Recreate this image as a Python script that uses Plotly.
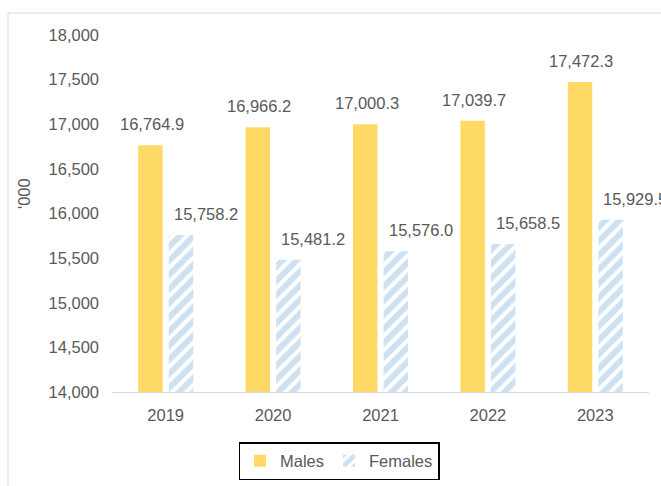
import plotly.graph_objects as go

years = ["2019", "2020", "2021", "2022", "2023"]
males = [16764.9, 16966.2, 17000.3, 17039.7, 17472.3]
females = [15758.2, 15481.2, 15576.0, 15658.5, 15929.5]
y_ticks = [14000, 14500, 15000, 15500, 16000, 16500, 17000, 17500, 18000]

FONT = "Liberation Sans, Arial, sans-serif"
FS = 16.5
GREY = "#595959"
YELLOW = "#FFD966"
BLUE = "#9DC3E6"

W, H = 661, 486
ML, MR, MT, MB = 112, 12, 35, 94
PW = W - ML - MR
PH = H - MT - MB

fig = go.Figure()
fig.add_trace(go.Bar(
    x=years, y=males, name="Males",
    marker=dict(color=YELLOW, line=dict(width=0)),
))
fig.add_trace(go.Bar(
    x=years, y=females, name="Females",
    marker=dict(color="white", line=dict(width=0),
                pattern=dict(shape="/", fgcolor=BLUE, bgcolor="white",
                             size=10, solidity=0.6, fillmode="overlay")),
))

annotations = []
for i, v in enumerate(males):
    annotations.append(dict(x=i, y=v, xref="x", yref="y",
                            text=f"{v:,.1f}", showarrow=False,
                            xanchor="center", yanchor="bottom",
                            xshift=-14, yshift=10,
                            font=dict(family=FONT, size=FS, color=GREY)))
for i, v in enumerate(females):
    annotations.append(dict(x=i, y=v, xref="x", yref="y",
                            text=f"{v:,.1f}", showarrow=False,
                            xanchor="center", yanchor="bottom",
                            xshift=40, yshift=10,
                            font=dict(family=FONT, size=FS, color=GREY)))
annotations.append(dict(x=(24 - ML) / PW, y=(H - MB - 194) / PH, xref="paper", yref="paper",
                        text="'000", showarrow=False, textangle=-90,
                        xanchor="center", yanchor="middle",
                        font=dict(family=FONT, size=FS, color=GREY)))

shapes = [dict(type="rect", xref="paper", yref="paper",
               x0=(8 - ML) / PW, x1=1.2, y0=-0.4, y1=(H - MB - 13) / PH,
               line=dict(color="#D9D9D9", width=1), fillcolor="rgba(0,0,0,0)",
               layer="below")]

fig.update_layout(
    width=W, height=H,
    margin=dict(l=ML, r=MR, t=MT, b=MB, autoexpand=False),
    paper_bgcolor="white", plot_bgcolor="white",
    barmode="group", bargap=0.43, bargroupgap=0.2,
    font=dict(family=FONT, size=FS, color=GREY),
    showlegend=True,
    legend=dict(orientation="h", x=(339 - ML) / PW, y=(H - MB - 442) / PH,
                xanchor="center", yanchor="top",
                bordercolor="#000000", borderwidth=1.5,
                font=dict(family=FONT, size=FS, color=GREY),
                itemwidth=30, tracegroupgap=0),
    xaxis=dict(type="category", range=[-0.5, 4.5], showline=True,
               linecolor="#D9D9D9", linewidth=1,
               showgrid=False, ticks="", ticklabelstandoff=8,
               tickfont=dict(family=FONT, size=FS, color=GREY)),
    yaxis=dict(range=[14000, 18000], tickvals=y_ticks,
               ticktext=[f"{t:,}" for t in y_ticks],
               showgrid=False, showline=False, zeroline=False, ticks="",
               ticklabelstandoff=12,
               tickfont=dict(family=FONT, size=FS, color=GREY)),
    annotations=annotations,
    shapes=shapes,
)

fig.write_html("out.html")
